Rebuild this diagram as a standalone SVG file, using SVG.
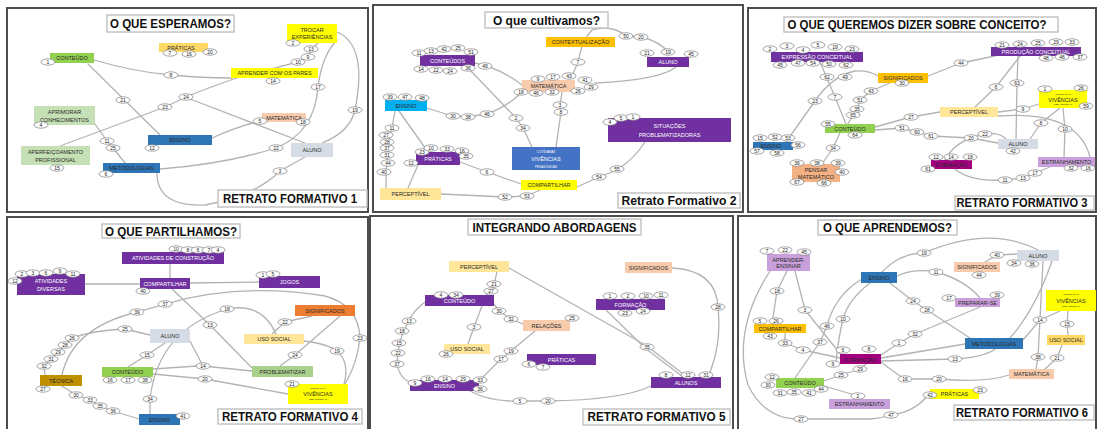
<svg xmlns="http://www.w3.org/2000/svg" width="1098" height="429" viewBox="0 0 1098 429">
<defs>
<style>
.frame{fill:#fff;stroke:#4d4d4d;stroke-width:2}
.tbox{fill:#fff;stroke:#c4c4c4;stroke-width:1.5}
.ttl{font-family:"Liberation Sans",Arial,sans-serif;font-weight:bold;font-size:13px;fill:#111;text-anchor:middle;dominant-baseline:central}
.cap{font-size:12px}
.links path{fill:none;stroke:#b3b3b3;stroke-width:1.3;stroke-linecap:round;stroke-linejoin:round}
.e{fill:#fff;stroke:#808080;stroke-width:0.7}
.n{font-family:"Liberation Sans",Arial,sans-serif;font-size:5px;fill:#222;text-anchor:middle;dominant-baseline:central}
.l{font-family:"Liberation Sans",Arial,sans-serif;font-size:5.5px;fill:#2a2a2a;text-anchor:middle;dominant-baseline:central}
.tiny{font-family:"Liberation Sans",Arial,sans-serif;font-size:6px;fill:#2a2a2a;text-anchor:middle;dominant-baseline:central}
.w{fill:#fff}
.green{fill:#92d050}.lgreen{fill:#c5e0b4}.mgreen{fill:#a9d18e}.yel{fill:#ffff00}.cream{fill:#ffe699}
.sand{fill:#ffd966}.salmon{fill:#f8cbad}.peach{fill:#f4b183}.blue{fill:#2e75b6}.cyan{fill:#00b0f0}
.purple{fill:#7030a0}.grey{fill:#d6dce5}.amber{fill:#ffc000}.orange{fill:#ed7d31}.gold{fill:#bf9000}
.mag{fill:#a3007f}.lav{fill:#c9a0dc}.vblue{fill:#4472c4}
</style>
<ellipse id="tg" class="e" rx="7" ry="3.2"/>
</defs>
<rect width="1098" height="429" fill="#fff"/>

<!-- ===== Retrato 1 ===== -->
<g id="panel1">
<rect class="frame" x="7" y="8" width="361" height="204"/>
<g class="links" id="p1-links">
<path d="M94,60 Q135,72 171,75 Q200,78 232,78"/>
<path d="M88,64 L160,135"/>
<path d="M60,146 L165,107 L186,97 Q215,85 240,77 L298,62 L308,57 L312,49 L318,43"/>
<path d="M190,99 L305,143"/>
<path d="M95,124 L107,141 L113,148 L125,163"/>
<path d="M160,169 Q225,164 276,148 Q315,132 318,87 Q322,55 337,40"/>
<path d="M337,32 Q368,45 355,110 Q350,132 322,143"/>
<path d="M212,138 Q236,127 260,121"/>
<path d="M157,173 Q157,207 205,205 Q255,196 280,171 L305,157"/>
</g>
<g id="p1-title"><rect class="tbox" x="107" y="15" width="127" height="17"/><text class="ttl" x="170.5" y="23.5" textLength="121" lengthAdjust="spacingAndGlyphs">O QUE ESPERAMOS?</text></g>
<g id="p1-caption"><rect class="tbox" x="218" y="190" width="149" height="17"/><text class="ttl cap" x="290" y="198.5" textLength="134" lengthAdjust="spacingAndGlyphs">RETRATO FORMATIVO 1</text></g>
<g id="p1-conteudo"><rect class="green" x="50" y="53" width="44" height="10"/><text class="l" x="72" y="58">CONTEÚDO</text><use href="#tg" x="48" y="62"/><text class="n" x="48" y="62">1</text></g>
<g id="p1-praticas"><rect class="sand" x="159" y="43" width="49" height="9"/><text class="l" x="181" y="47.5">PRÁTICAS</text><use href="#tg" x="170" y="53"/><text class="n" x="170" y="53">7</text><use href="#tg" x="189" y="54"/><text class="n" x="189" y="54">16</text><use href="#tg" x="210" y="52"/><text class="n" x="210" y="52">20</text></g>
<g id="p1-trocar"><rect class="yel" x="287" y="24" width="50" height="19"/><text class="l" x="312" y="29.5">TROCAR</text><text class="l" x="312" y="37">EXPERIÊNCIAS</text><use href="#tg" x="293" y="43"/><text class="n" x="293" y="43">2</text><use href="#tg" x="311" y="49"/><text class="n" x="311" y="49">13</text><use href="#tg" x="308" y="57"/><text class="n" x="308" y="57">9</text><use href="#tg" x="298" y="62"/><text class="n" x="298" y="62">10</text></g>
<g id="p1-aprender"><rect class="yel" x="231" y="68" width="87" height="10"/><text class="l" x="274.5" y="73">APRENDER COM OS PARES</text><use href="#tg" x="273" y="81"/><text class="n" x="273" y="81">14</text></g>
<g id="p1-aprimorar"><rect class="lgreen" x="34" y="106" width="61" height="19"/><text class="l" x="64.5" y="112">APRIMORAR</text><text class="l" x="64.5" y="119.5">CONHECIMENTOS</text><use href="#tg" x="41" y="125"/><text class="n" x="41" y="125">4</text></g>
<g id="p1-matematica"><rect class="salmon" x="262" y="113" width="44" height="9"/><text class="l" x="284" y="117.5">MATEMÁTICA</text><use href="#tg" x="260" y="121"/><text class="n" x="260" y="121">5</text><use href="#tg" x="303" y="122"/><text class="n" x="303" y="122">18</text></g>
<g id="p1-ensino"><rect class="blue" x="148" y="135" width="64" height="10"/><text class="l" x="180" y="140">ENSINO</text><use href="#tg" x="152" y="148"/><text class="n" x="152" y="148">12</text></g>
<g id="p1-aperfeicoamento"><rect class="lgreen" x="21" y="146" width="69" height="19"/><text class="l" x="55.5" y="152">APERFEIÇOAMENTO</text><text class="l" x="55.5" y="159.5">PROFISSIONAL</text><use href="#tg" x="57" y="168"/><text class="n" x="57" y="168">15</text></g>
<g id="p1-metodologias"><rect class="blue" x="103" y="163" width="57" height="10"/><text class="l" x="131.5" y="168">METODOLOGIAS</text><use href="#tg" x="106" y="174"/><text class="n" x="106" y="174">6</text></g>
<g id="p1-aluno"><rect class="grey" x="291" y="143" width="42" height="14"/><text class="l" x="312" y="150">ALUNO</text></g>
<g id="p1-labels">
<use href="#tg" x="171" y="75"/><text class="n" x="171" y="75">8</text>
<use href="#tg" x="123" y="100"/><text class="n" x="123" y="100">21</text>
<use href="#tg" x="165" y="107"/><text class="n" x="165" y="107">23</text>
<use href="#tg" x="186" y="97"/><text class="n" x="186" y="97">24</text>
<use href="#tg" x="318" y="87"/><text class="n" x="318" y="87">17</text>
<use href="#tg" x="355" y="110"/><text class="n" x="355" y="110">19</text>
<use href="#tg" x="107" y="141"/><text class="n" x="107" y="141">11</text>
<use href="#tg" x="113" y="148"/><text class="n" x="113" y="148">25</text>
<use href="#tg" x="276" y="148"/><text class="n" x="276" y="148">22</text>
<use href="#tg" x="280" y="171"/><text class="n" x="280" y="171">3</text>
</g>
</g>

<!-- ===== Retrato 2 ===== -->
<g id="panel2">
<rect class="frame" x="373" y="5" width="370" height="207"/>
<g class="links" id="p2-links">
<path d="M475,63 Q500,68 522,85"/>
<path d="M470,70 L516,118 L523,128 L532,147"/>
<path d="M427,108 L452,116 L467,117 L487,114 Q508,106 521,93"/>
<path d="M399,111 L428,152"/>
<path d="M395,111 L392,128 Q386,150 386,188"/>
<path d="M418,165 L408,188"/>
<path d="M460,162 L487,172 L521,184"/>
<path d="M441,194 L505,197 L527,196 L540,190"/>
<path d="M577,187 L599,177 L617,170 Q635,158 645,142"/>
<path d="M562,92 L560,105 L561,112 L556,147"/>
<path d="M572,76 L578,62 Q582,40 592,30 Q610,24 627,36 L642,37 Q660,42 668,52"/>
<path d="M676,67 Q660,80 595,83"/>
</g>
<g id="p2-title"><rect class="tbox" x="485" y="12" width="123" height="16"/><text class="ttl" x="546.5" y="20" textLength="107" lengthAdjust="spacingAndGlyphs">O que cultivamos?</text></g>
<g id="p2-caption"><rect class="tbox" x="618" y="193" width="122" height="15"/><text class="ttl" x="679" y="200.5" textLength="115" lengthAdjust="spacingAndGlyphs">Retrato Formativo 2</text></g>
<g id="p2-conteudos"><rect class="purple" x="420" y="55" width="55" height="11"/><text class="l w" x="447.5" y="60.5" font-size="8">CONTEÚDOS</text>
<use href="#tg" x="419" y="53"/><text class="n" x="419" y="53">11</text><use href="#tg" x="431" y="51"/><text class="n" x="431" y="51">13</text><use href="#tg" x="444" y="49"/><text class="n" x="444" y="49">42</text><use href="#tg" x="458" y="48"/><text class="n" x="458" y="48">25</text><use href="#tg" x="471" y="52"/><text class="n" x="471" y="52">51</text>
<use href="#tg" x="421" y="69"/><text class="n" x="421" y="69">14</text><use href="#tg" x="436" y="70"/><text class="n" x="436" y="70">22</text><use href="#tg" x="450" y="71"/><text class="n" x="450" y="71">24</text><use href="#tg" x="468" y="68"/><text class="n" x="468" y="68">36</text><use href="#tg" x="485" y="66"/><text class="n" x="485" y="66">49</text></g>
<g id="p2-matematica"><rect class="salmon" x="522" y="80" width="53" height="12"/><text class="l" x="548.5" y="86">MATEMÁTICA</text>
<use href="#tg" x="538" y="79"/><text class="n" x="538" y="79">9</text><use href="#tg" x="553" y="77"/><text class="n" x="553" y="77">17</text><use href="#tg" x="569" y="76"/><text class="n" x="569" y="76">43</text><use href="#tg" x="585" y="80"/><text class="n" x="585" y="80">41</text><use href="#tg" x="591" y="87"/><text class="n" x="591" y="87">29</text><use href="#tg" x="578" y="91"/><text class="n" x="578" y="91">26</text><use href="#tg" x="552" y="92"/><text class="n" x="552" y="92">32</text><use href="#tg" x="536" y="93"/><text class="n" x="536" y="93">46</text><use href="#tg" x="521" y="92"/><text class="n" x="521" y="92">18</text></g>
<g id="p2-contextualizacao"><rect class="amber" x="546" y="37" width="69" height="10"/><text class="l" x="580.5" y="42" font-size="5">CONTEXTUALIZAÇÃO</text></g>
<g id="p2-aluno"><rect class="purple" x="647" y="57" width="42" height="10"/><text class="l w" x="668" y="62" font-size="7">ALUNO</text><use href="#tg" x="647" y="53"/><text class="n" x="647" y="53">21</text><use href="#tg" x="668" y="52"/><text class="n" x="668" y="52">19</text><use href="#tg" x="691" y="54"/><text class="n" x="691" y="54">45</text></g>
<g id="p2-ensino"><rect class="cyan" x="385" y="100" width="42" height="11"/><text class="l" x="406" y="105.5">ENSINO</text><use href="#tg" x="390" y="97"/><text class="n" x="390" y="97">39</text><use href="#tg" x="405" y="97"/><text class="n" x="405" y="97">47</text><use href="#tg" x="422" y="98"/><text class="n" x="422" y="98">48</text></g>
<g id="p2-praticas"><rect class="purple" x="416" y="152" width="44" height="13"/><text class="l w" x="438" y="159" font-size="8">PRÁTICAS</text><use href="#tg" x="422" y="152"/><text class="n" x="422" y="152">23</text><use href="#tg" x="431" y="148"/><text class="n" x="431" y="148">10</text><use href="#tg" x="447" y="149"/><text class="n" x="447" y="149">33</text><use href="#tg" x="462" y="151"/><text class="n" x="462" y="151">16</text><use href="#tg" x="466" y="156"/><text class="n" x="466" y="156">35</text><use href="#tg" x="411" y="163"/><text class="n" x="411" y="163">12</text></g>
<g id="p2-vivencias"><rect class="vblue" x="512" y="147" width="68" height="23"/><text class="tiny w" transform="translate(546 151.5) scale(0.5)">COTIDIANAS</text><text class="l w" x="546" y="159" font-size="10">VIVÊNCIAS</text><text class="tiny w" transform="translate(546 166.5) scale(0.5)">PEDAGÓGICAS</text></g>
<g id="p2-situacoes"><rect class="purple" x="608" y="118" width="123" height="24"/><text class="l w" x="669.5" y="125.5" font-size="8">SITUAÇÕES</text><text class="l w" x="669.5" y="135" font-size="8">PROBLEMATIZADORAS</text><use href="#tg" x="610" y="122"/><text class="n" x="610" y="122">4</text><use href="#tg" x="621" y="118"/><text class="n" x="621" y="118">5</text><use href="#tg" x="633" y="117"/><text class="n" x="633" y="117">1</text></g>
<g id="p2-compartilhar"><rect class="yel" x="521" y="180" width="56" height="10"/><text class="l" x="549" y="185">COMPARTILHAR</text></g>
<g id="p2-perceptivel"><rect class="cream" x="380" y="188" width="61" height="12"/><text class="l" x="410.5" y="194">PERCEPTÍVEL</text></g>
<g id="p2-labels">
<use href="#tg" x="626" y="36"/><text class="n" x="626" y="36">50</text>
<use href="#tg" x="641" y="37"/><text class="n" x="641" y="37">20</text>
<use href="#tg" x="578" y="62"/><text class="n" x="578" y="62">7</text>
<use href="#tg" x="453" y="116"/><text class="n" x="453" y="116">30</text>
<use href="#tg" x="468" y="117"/><text class="n" x="468" y="117">38</text>
<use href="#tg" x="487" y="114"/><text class="n" x="487" y="114">46</text>
<use href="#tg" x="516" y="118"/><text class="n" x="516" y="118">2</text>
<use href="#tg" x="523" y="128"/><text class="n" x="523" y="128">34</text>
<use href="#tg" x="560" y="105"/><text class="n" x="560" y="105">3</text>
<use href="#tg" x="561" y="112"/><text class="n" x="561" y="112">8</text>
<use href="#tg" x="392" y="128"/><text class="n" x="392" y="128">11</text>
<use href="#tg" x="386" y="135"/><text class="n" x="386" y="135">27</text>
<use href="#tg" x="387" y="142"/><text class="n" x="387" y="142">28</text>
<use href="#tg" x="387" y="148"/><text class="n" x="387" y="148">37</text>
<use href="#tg" x="387" y="155"/><text class="n" x="387" y="155">31</text>
<use href="#tg" x="388" y="163"/><text class="n" x="388" y="163">44</text>
<use href="#tg" x="384" y="172"/><text class="n" x="384" y="172">40</text>
<use href="#tg" x="487" y="172"/><text class="n" x="487" y="172">6</text>
<use href="#tg" x="505" y="197"/><text class="n" x="505" y="197">52</text>
<use href="#tg" x="527" y="196"/><text class="n" x="527" y="196">53</text>
<use href="#tg" x="617" y="169"/><text class="n" x="617" y="169">55</text>
<use href="#tg" x="599" y="177"/><text class="n" x="599" y="177">54</text>
</g>
</g>

<!-- ===== Retrato 3 ===== -->
<g id="panel3">
<rect class="frame" x="748" y="8" width="348" height="204"/>
<g class="links" id="p3-links">
<path d="M820,62 L835,97 L846,124"/>
<path d="M786,142 L815,101 Q832,76 855,71 Q868,70 878,76"/>
<path d="M890,83 L871,91 L860,100 L857,109 L853,115 L848,124"/>
<path d="M875,127 L911,117 L940,112"/>
<path d="M875,130 L902,128 L917,132 L931,136 L971,138 L998,143"/>
<path d="M840,133 L833,148 L822,164"/>
<path d="M928,76 L961,63 L995,56"/>
<path d="M1020,56 L996,87 L975,107"/>
<path d="M1018,56 L1017,83 L1016,139"/>
<path d="M998,112 L1023,109 L1039,104"/>
<path d="M1060,108 L1041,123 L1030,139"/>
<path d="M1063,108 L1065,129 L1064,157"/>
<path d="M998,116 Q1078,110 1090,157"/>
<path d="M945,160 Q955,140 985,134 Q1000,132 1006,139"/>
<path d="M955,169 Q970,182 1005,180 L1023,178 L1035,173 L1050,167"/>
</g>
<g id="p3-title"><rect class="tbox" x="784" y="17" width="274" height="15"/><text class="ttl" x="917" y="24.5" font-size="12.5" textLength="259" lengthAdjust="spacingAndGlyphs">O QUE QUEREMOS DIZER SOBRE CONCEITO?</text></g>
<g id="p3-caption"><rect class="tbox" x="955" y="196" width="139" height="14"/><text class="ttl cap" x="1022" y="203" textLength="131" lengthAdjust="spacingAndGlyphs">RETRATO FORMATIVO 3</text></g>
<g id="p3-expressao"><rect class="purple" x="771" y="52" width="92" height="10"/><text class="l w" x="817" y="57" font-size="6.5">EXPRESSÃO CONCEITUAL</text>
<use href="#tg" x="770" y="49"/><text class="n" x="770" y="49">2</text><use href="#tg" x="787" y="46"/><text class="n" x="787" y="46">3</text><use href="#tg" x="803" y="50"/><text class="n" x="803" y="50">4</text><use href="#tg" x="818" y="45"/><text class="n" x="818" y="45">5</text><use href="#tg" x="835" y="47"/><text class="n" x="835" y="47">19</text><use href="#tg" x="852" y="49"/><text class="n" x="852" y="49">23</text>
<use href="#tg" x="780" y="65"/><text class="n" x="780" y="65">45</text><use href="#tg" x="798" y="63"/><text class="n" x="798" y="63">47</text><use href="#tg" x="813" y="63"/><text class="n" x="813" y="63">54</text><use href="#tg" x="829" y="64"/><text class="n" x="829" y="64">50</text><use href="#tg" x="846" y="65"/><text class="n" x="846" y="65">62</text></g>
<g id="p3-significados"><rect class="amber" x="878" y="73" width="50" height="10"/><text class="l" x="903" y="78">SIGNIFICADOS</text><use href="#tg" x="902" y="83"/><text class="n" x="902" y="83">30</text></g>
<g id="p3-producao"><rect class="purple" x="991" y="47" width="90" height="9"/><text class="l w" x="1036" y="51.5" font-size="6.5">PRODUÇÃO CONCEITUAL</text>
<use href="#tg" x="1002" y="45"/><text class="n" x="1002" y="45">21</text><use href="#tg" x="1020" y="44"/><text class="n" x="1020" y="44">24</text><use href="#tg" x="1038" y="43"/><text class="n" x="1038" y="43">25</text><use href="#tg" x="1056" y="42"/><text class="n" x="1056" y="42">29</text><use href="#tg" x="1072" y="42"/><text class="n" x="1072" y="42">33</text>
<use href="#tg" x="1046" y="58"/><text class="n" x="1046" y="58">48</text><use href="#tg" x="1062" y="57"/><text class="n" x="1062" y="57">46</text><use href="#tg" x="1080" y="57"/><text class="n" x="1080" y="57">37</text></g>
<g id="p3-vivencias"><rect class="yel" x="1039" y="90" width="48" height="18"/><text class="tiny" transform="translate(1063 94) scale(0.42)">COTIDIANAS</text><text class="l" x="1063" y="99.5" font-size="7">VIVÊNCIAS</text><text class="tiny" transform="translate(1063 104.5) scale(0.42)">PEDAGÓGICAS</text>
<use href="#tg" x="1045" y="89"/><text class="n" x="1045" y="89">1</text><use href="#tg" x="1081" y="88"/><text class="n" x="1081" y="88">26</text><use href="#tg" x="1086" y="106"/><text class="n" x="1086" y="106">59</text></g>
<g id="p3-perceptivel"><rect class="cream" x="940" y="107" width="58" height="10"/><text class="l" x="969" y="112">PERCEPTÍVEL</text></g>
<g id="p3-conteudo"><rect class="green" x="825" y="124" width="50" height="9"/><text class="l" x="850" y="128.5">CONTEÚDO</text><use href="#tg" x="828" y="124"/><text class="n" x="828" y="124">55</text><use href="#tg" x="855" y="135"/><text class="n" x="855" y="135">64</text></g>
<g id="p3-aluno"><rect class="grey" x="998" y="139" width="40" height="10"/><text class="l" x="1018" y="144">ALUNO</text><use href="#tg" x="1013" y="151"/><text class="n" x="1013" y="151">42</text></g>
<g id="p3-ensino"><rect class="blue" x="753" y="142" width="40" height="8"/><text class="l" x="771" y="146">ENSINO</text>
<use href="#tg" x="760" y="138"/><text class="n" x="760" y="138">15</text><use href="#tg" x="775" y="137"/><text class="n" x="775" y="137">52</text><use href="#tg" x="788" y="138"/><text class="n" x="788" y="138">53</text><use href="#tg" x="798" y="145"/><text class="n" x="798" y="145">56</text><use href="#tg" x="757" y="151"/><text class="n" x="757" y="151">57</text><use href="#tg" x="777" y="153"/><text class="n" x="777" y="153">58</text></g>
<g id="p3-pensar"><rect class="peach" x="792" y="164" width="48" height="18"/><text class="l" x="816" y="169.5">PENSAR</text><text class="l" x="816" y="176.5">MATEMÁTICO</text>
<use href="#tg" x="797" y="163"/><text class="n" x="797" y="163">36</text><use href="#tg" x="817" y="163"/><text class="n" x="817" y="163">38</text><use href="#tg" x="838" y="163"/><text class="n" x="838" y="163">39</text><use href="#tg" x="842" y="172"/><text class="n" x="842" y="172">40</text><use href="#tg" x="797" y="182"/><text class="n" x="797" y="182">67</text><use href="#tg" x="824" y="183"/><text class="n" x="824" y="183">66</text></g>
<g id="p3-formacao"><rect class="mag" x="931" y="160" width="41" height="9"/><text class="l" x="951.5" y="164.5">FORMAÇÃO</text>
<use href="#tg" x="936" y="157"/><text class="n" x="936" y="157">12</text><use href="#tg" x="951" y="157"/><text class="n" x="951" y="157">14</text><use href="#tg" x="970" y="157"/><text class="n" x="970" y="157">18</text><use href="#tg" x="928" y="169"/><text class="n" x="928" y="169">61</text></g>
<g id="p3-estranhamento"><rect class="lav" x="1038" y="157" width="57" height="10"/><text class="l" x="1066.5" y="162">ESTRANHAMENTO</text><use href="#tg" x="1071" y="168"/><text class="n" x="1071" y="168">32</text><use href="#tg" x="1088" y="168"/><text class="n" x="1088" y="168">16</text></g>
<g id="p3-labels">
<use href="#tg" x="827" y="77"/><text class="n" x="827" y="77">62</text>
<use href="#tg" x="845" y="77"/><text class="n" x="845" y="77">49</text>
<use href="#tg" x="871" y="91"/><text class="n" x="871" y="91">43</text>
<use href="#tg" x="860" y="100"/><text class="n" x="860" y="100">51</text>
<use href="#tg" x="857" y="109"/><text class="n" x="857" y="109">35</text>
<use href="#tg" x="853" y="115"/><text class="n" x="853" y="115">65</text>
<use href="#tg" x="815" y="101"/><text class="n" x="815" y="101">23</text>
<use href="#tg" x="835" y="97"/><text class="n" x="835" y="97">7</text>
<use href="#tg" x="961" y="63"/><text class="n" x="961" y="63">44</text>
<use href="#tg" x="996" y="87"/><text class="n" x="996" y="87">6</text>
<use href="#tg" x="1017" y="83"/><text class="n" x="1017" y="83">63</text>
<use href="#tg" x="1023" y="109"/><text class="n" x="1023" y="109">9</text>
<use href="#tg" x="911" y="117"/><text class="n" x="911" y="117">27</text>
<use href="#tg" x="902" y="128"/><text class="n" x="902" y="128">51</text>
<use href="#tg" x="917" y="132"/><text class="n" x="917" y="132">60</text>
<use href="#tg" x="931" y="136"/><text class="n" x="931" y="136">61</text>
<use href="#tg" x="971" y="138"/><text class="n" x="971" y="138">20</text>
<use href="#tg" x="985" y="134"/><text class="n" x="985" y="134">22</text>
<use href="#tg" x="1041" y="123"/><text class="n" x="1041" y="123">8</text>
<use href="#tg" x="1065" y="129"/><text class="n" x="1065" y="129">10</text>
<use href="#tg" x="833" y="148"/><text class="n" x="833" y="148">34</text>
<use href="#tg" x="1005" y="180"/><text class="n" x="1005" y="180">11</text>
<use href="#tg" x="1023" y="178"/><text class="n" x="1023" y="178">13</text>
<use href="#tg" x="1035" y="173"/><text class="n" x="1035" y="173">17</text>
</g>
</g>

<!-- ===== Retrato 4 ===== -->
<g id="panel4">
<rect class="frame" x="7" y="217" width="361" height="214"/>
<g class="links" id="p4-links">
<path d="M170,264 L170,278"/>
<path d="M85,284 L140,284"/>
<path d="M190,283 L259,282"/>
<path d="M172,289 L210,325 L252,368"/>
<path d="M62,375 Q72,328 137,312 L165,304 Q240,282 325,296 Q358,305 360,337 Q358,362 345,384"/>
<path d="M150,414 L150,399 Q158,330 227,309 Q262,302 276,334"/>
<path d="M312,316 L285,322 L272,334"/>
<path d="M340,316 L295,355 L280,366"/>
<path d="M304,341 Q328,344 337,351 Q350,362 344,384"/>
<path d="M153,374 L205,379 L288,394"/>
<path d="M190,341 L203,366 L252,371"/>
<path d="M153,369 L197,366"/>
<path d="M45,375 L44,366 L51,359 L58,352 L65,345 L72,338 Q95,330 125,329 L150,335"/>
<path d="M165,343 L147,355 L128,367"/>
<path d="M62,386 L76,395 L90,400 L100,406 L113,411 L139,419"/>
</g>
<g id="p4-title"><rect class="tbox" x="102" y="224" width="138" height="14"/><text class="ttl" x="171" y="231" font-size="12.5" textLength="132" lengthAdjust="spacingAndGlyphs">O QUE PARTILHAMOS?</text></g>
<g id="p4-caption"><rect class="tbox" x="218" y="409" width="144" height="15"/><text class="ttl cap" x="290" y="416.5" textLength="136" lengthAdjust="spacingAndGlyphs">RETRATO FORMATIVO 4</text></g>
<g id="p4-atividades-construcao"><rect class="purple" x="122" y="252" width="102" height="12"/><text class="l w" x="173" y="258" font-size="6">ATIVIDADES DE CONSTRUÇÃO</text>
<use href="#tg" x="176" y="249"/><text class="n" x="176" y="249">10</text><use href="#tg" x="188" y="250"/><text class="n" x="188" y="250">8</text><use href="#tg" x="198" y="250"/><text class="n" x="198" y="250">6</text><use href="#tg" x="209" y="250"/><text class="n" x="209" y="250">7</text><use href="#tg" x="218" y="250"/><text class="n" x="218" y="250">4</text></g>
<g id="p4-atividades-diversas"><rect class="purple" x="17" y="274" width="68" height="21"/><text class="l w" x="51" y="280.5" font-size="6.5">ATIVIDADES</text><text class="l w" x="51" y="288.5" font-size="6.5">DIVERSAS</text>
<use href="#tg" x="22" y="274"/><text class="n" x="22" y="274">2</text><use href="#tg" x="33" y="273"/><text class="n" x="33" y="273">3</text><use href="#tg" x="46" y="273"/><text class="n" x="46" y="273">6</text><use href="#tg" x="60" y="271"/><text class="n" x="60" y="271">9</text><use href="#tg" x="73" y="274"/><text class="n" x="73" y="274">11</text><use href="#tg" x="15" y="281"/><text class="n" x="15" y="281">12</text></g>
<g id="p4-compartilhar"><rect class="purple" x="140" y="278" width="50" height="11"/><text class="l w" x="165" y="283.5" font-size="6">COMPARTILHAR</text><use href="#tg" x="143" y="291"/><text class="n" x="143" y="291">40</text></g>
<g id="p4-jogos"><rect class="purple" x="259" y="276" width="61" height="12"/><text class="l w" x="289.5" y="282" font-size="6">JOGOS</text><use href="#tg" x="263" y="275"/><text class="n" x="263" y="275">1</text><use href="#tg" x="273" y="274"/><text class="n" x="273" y="274">5</text></g>
<g id="p4-significados"><rect class="orange" x="295" y="305" width="60" height="11"/><text class="l" x="325" y="310.5">SIGNIFICADOS</text></g>
<g id="p4-aluno"><rect class="grey" x="150" y="329" width="40" height="14"/><text class="l" x="170" y="336">ALUNO</text></g>
<g id="p4-uso-social"><rect class="cream" x="244" y="334" width="60" height="10"/><text class="l" x="274" y="339">USO SOCIAL</text></g>
<g id="p4-conteudo"><rect class="green" x="102" y="367" width="51" height="10"/><text class="l" x="127.5" y="372">CONTEÚDO</text>
<use href="#tg" x="110" y="380"/><text class="n" x="110" y="380">16</text><use href="#tg" x="128" y="380"/><text class="n" x="128" y="380">17</text><use href="#tg" x="145" y="380"/><text class="n" x="145" y="380">38</text></g>
<g id="p4-problematizar"><rect class="mgreen" x="252" y="366" width="61" height="11"/><text class="l" x="282.5" y="371.5">PROBLEMATIZAR</text></g>
<g id="p4-tecnica"><rect class="gold" x="40" y="375" width="42" height="11"/><text class="l" x="61" y="380.5">TÉCNICA</text><use href="#tg" x="43" y="389"/><text class="n" x="43" y="389">27</text></g>
<g id="p4-vivencias"><rect class="yel" x="288" y="384" width="60" height="20"/><text class="tiny" transform="translate(318 388.5) scale(0.42)">COTIDIANAS</text><text class="l" x="318" y="394" font-size="7">VIVÊNCIAS</text><text class="tiny" transform="translate(318 399.5) scale(0.42)">PEDAGÓGICAS</text><use href="#tg" x="292" y="384"/><text class="n" x="292" y="384">21</text></g>
<g id="p4-ensino"><rect class="blue" x="139" y="414" width="41" height="11"/><text class="l" x="159.5" y="419.5">ENSINO</text><use href="#tg" x="183" y="416"/><text class="n" x="183" y="416">41</text></g>
<g id="p4-labels">
<use href="#tg" x="165" y="304"/><text class="n" x="165" y="304">37</text>
<use href="#tg" x="137" y="312"/><text class="n" x="137" y="312">39</text>
<use href="#tg" x="227" y="309"/><text class="n" x="227" y="309">18</text>
<use href="#tg" x="210" y="325"/><text class="n" x="210" y="325">13</text>
<use href="#tg" x="285" y="322"/><text class="n" x="285" y="322">22</text>
<use href="#tg" x="125" y="329"/><text class="n" x="125" y="329">25</text>
<use href="#tg" x="360" y="338"/><text class="n" x="360" y="338">23</text>
<use href="#tg" x="337" y="351"/><text class="n" x="337" y="351">19</text>
<use href="#tg" x="295" y="355"/><text class="n" x="295" y="355">24</text>
<use href="#tg" x="72" y="338"/><text class="n" x="72" y="338">26</text>
<use href="#tg" x="65" y="345"/><text class="n" x="65" y="345">28</text>
<use href="#tg" x="58" y="352"/><text class="n" x="58" y="352">29</text>
<use href="#tg" x="51" y="359"/><text class="n" x="51" y="359">31</text>
<use href="#tg" x="44" y="366"/><text class="n" x="44" y="366">32</text>
<use href="#tg" x="147" y="355"/><text class="n" x="147" y="355">15</text>
<use href="#tg" x="203" y="366"/><text class="n" x="203" y="366">14</text>
<use href="#tg" x="205" y="379"/><text class="n" x="205" y="379">20</text>
<use href="#tg" x="76" y="395"/><text class="n" x="76" y="395">30</text>
<use href="#tg" x="90" y="400"/><text class="n" x="90" y="400">33</text>
<use href="#tg" x="100" y="406"/><text class="n" x="100" y="406">35</text>
<use href="#tg" x="113" y="411"/><text class="n" x="113" y="411">36</text>
<use href="#tg" x="150" y="399"/><text class="n" x="150" y="399">34</text>
</g>
</g>

<!-- ===== Retrato 5 ===== -->
<g id="panel5">
<rect class="frame" x="370" y="216" width="363" height="215"/>
<g class="links" id="p5-links">
<path d="M497,272 L494,284 L491,291 L486,295"/>
<path d="M509,268 L647,346 L687,377"/>
<path d="M606,310 L645,348 L683,377"/>
<path d="M494,304 L499,311 L511,319 L523,324"/>
<path d="M482,306 L474,327 L468,344"/>
<path d="M425,302 Q412,312 409,321 Q400,335 398,353 L397,364 Q400,380 413,383"/>
<path d="M535,331 L511,351 L501,359 L480,380"/>
<path d="M470,391 Q490,402 520,401 L548,401 Q622,400 651,386"/>
<path d="M672,268 Q716,270 718,307 Q722,345 708,377"/>
</g>
<g id="p5-title"><rect class="tbox" x="468" y="219" width="173" height="16"/><text class="ttl" x="554.5" y="227" textLength="164" lengthAdjust="spacingAndGlyphs">INTEGRANDO ABORDAGENS</text></g>
<g id="p5-caption"><rect class="tbox" x="583" y="409" width="147" height="16"/><text class="ttl cap" x="656.5" y="417" textLength="138" lengthAdjust="spacingAndGlyphs">RETRATO FORMATIVO 5</text></g>
<g id="p5-perceptivel"><rect class="cream" x="449" y="261" width="60" height="11"/><text class="l" x="479" y="266.5">PERCEPTÍVEL</text></g>
<g id="p5-conteudo"><rect class="purple" x="425" y="295" width="69" height="11"/><text class="l w" x="459.5" y="300.5" font-size="8">CONTEÚDO</text><use href="#tg" x="441" y="295"/><text class="n" x="441" y="295">4</text><use href="#tg" x="456" y="295"/><text class="n" x="456" y="295">34</text></g>
<g id="p5-relacoes"><rect class="salmon" x="523" y="320" width="47" height="11"/><text class="l" x="546.5" y="325.5">RELAÇÕES</text><use href="#tg" x="572" y="318"/><text class="n" x="572" y="318">25</text></g>
<g id="p5-uso-social"><rect class="cream" x="444" y="344" width="46" height="10"/><text class="l" x="467" y="349" font-size="6">USO SOCIAL</text><use href="#tg" x="446" y="354"/><text class="n" x="446" y="354">26</text></g>
<g id="p5-praticas"><rect class="purple" x="527" y="354" width="69" height="11"/><text class="l w" x="561.5" y="359.5" font-size="6">PRÁTICAS</text><use href="#tg" x="529" y="364"/><text class="n" x="529" y="364">6</text><use href="#tg" x="543" y="367"/><text class="n" x="543" y="367">7</text></g>
<g id="p5-formacao"><rect class="purple" x="596" y="299" width="69" height="11"/><text class="l w" x="630.5" y="304.5" font-size="7">FORMAÇÃO</text>
<use href="#tg" x="610" y="296"/><text class="n" x="610" y="296">1</text><use href="#tg" x="628" y="296"/><text class="n" x="628" y="296">2</text><use href="#tg" x="646" y="296"/><text class="n" x="646" y="296">10</text><use href="#tg" x="661" y="295"/><text class="n" x="661" y="295">11</text><use href="#tg" x="625" y="313"/><text class="n" x="625" y="313">23</text><use href="#tg" x="643" y="311"/><text class="n" x="643" y="311">24</text></g>
<g id="p5-significados"><rect class="salmon" x="625" y="262" width="47" height="11"/><text class="l" x="648.5" y="267.5" font-size="5">SIGNIFICADOS</text></g>
<g id="p5-alunos"><rect class="purple" x="651" y="377" width="70" height="11"/><text class="l w" x="686" y="382.5" font-size="6.5">ALUNOS</text>
<use href="#tg" x="666" y="375"/><text class="n" x="666" y="375">8</text><use href="#tg" x="688" y="375"/><text class="n" x="688" y="375">12</text><use href="#tg" x="706" y="375"/><text class="n" x="706" y="375">31</text></g>
<g id="p5-ensino"><rect class="purple" x="410" y="380" width="69" height="11"/><text class="l w" x="444.5" y="386" font-size="7">ENSINO</text>
<use href="#tg" x="415" y="383"/><text class="n" x="415" y="383">9</text><use href="#tg" x="428" y="379"/><text class="n" x="428" y="379">16</text><use href="#tg" x="445" y="379"/><text class="n" x="445" y="379">14</text><use href="#tg" x="463" y="379"/><text class="n" x="463" y="379">29</text><use href="#tg" x="480" y="380"/><text class="n" x="480" y="380">33</text><use href="#tg" x="480" y="389"/><text class="n" x="480" y="389">36</text></g>
<g id="p5-labels">
<use href="#tg" x="494" y="284"/><text class="n" x="494" y="284">21</text>
<use href="#tg" x="491" y="291"/><text class="n" x="491" y="291">27</text>
<use href="#tg" x="499" y="311"/><text class="n" x="499" y="311">30</text>
<use href="#tg" x="511" y="319"/><text class="n" x="511" y="319">32</text>
<use href="#tg" x="409" y="321"/><text class="n" x="409" y="321">13</text>
<use href="#tg" x="402" y="331"/><text class="n" x="402" y="331">18</text>
<use href="#tg" x="399" y="343"/><text class="n" x="399" y="343">15</text>
<use href="#tg" x="398" y="353"/><text class="n" x="398" y="353">22</text>
<use href="#tg" x="397" y="364"/><text class="n" x="397" y="364">37</text>
<use href="#tg" x="474" y="327"/><text class="n" x="474" y="327">3</text>
<use href="#tg" x="511" y="351"/><text class="n" x="511" y="351">19</text>
<use href="#tg" x="501" y="359"/><text class="n" x="501" y="359">17</text>
<use href="#tg" x="718" y="307"/><text class="n" x="718" y="307">28</text>
<use href="#tg" x="647" y="347"/><text class="n" x="647" y="347">35</text>
<use href="#tg" x="520" y="401"/><text class="n" x="520" y="401">5</text>
<use href="#tg" x="548" y="401"/><text class="n" x="548" y="401">20</text>
</g>
</g>

<!-- ===== Retrato 6 ===== -->
<g id="panel6">
<rect class="frame" x="738" y="216" width="358" height="215"/>
<g class="links" id="p6-links">
<path d="M787,271 L777,291 L772,324"/>
<path d="M795,271 L805,310 L842,356"/>
<path d="M770,271 Q732,330 748,385 Q765,420 801,419 L870,419 Q882,418 891,415 Q915,412 928,395"/>
<path d="M785,333 L785,343 L803,350 L840,358"/>
<path d="M870,283 Q848,300 843,319 Q838,340 836,363"/>
<path d="M862,279 Q835,295 827,326 L820,342 L795,378"/>
<path d="M882,272 Q900,253 924,253 Q990,225 1038,250"/>
<path d="M897,276 Q915,268 936,272 Q965,280 980,298"/>
<path d="M890,283 L913,301 L927,310 L970,338"/>
<path d="M881,355 L899,343 L915,334 L980,307"/>
<path d="M881,358 L965,344"/>
<path d="M881,361 L955,359 Q985,357 995,349"/>
<path d="M1052,261 Q1035,310 1010,338"/>
<path d="M1043,261 L1038,357 L1036,369"/>
<path d="M1017,254 L997,255 L985,262"/>
<path d="M1023,340 L1040,320 L1060,311"/>
<path d="M1068,311 L1067,324 L1068,335"/>
<path d="M1062,345 L1057,358 L1045,369"/>
<path d="M881,362 Q895,373 905,379 L939,379 Q985,383 1009,375"/>
<path d="M866,364 L860,369 L841,375 L824,381"/>
<path d="M824,386 L858,396"/>
</g>
<g id="p6-title"><rect class="tbox" x="818" y="220" width="139" height="15"/><text class="ttl" x="887.5" y="227.5" font-size="12.5" textLength="129" lengthAdjust="spacingAndGlyphs">O QUE APRENDEMOS?</text></g>
<g id="p6-caption"><rect class="tbox" x="954" y="405" width="140" height="15"/><text class="ttl cap" x="1022" y="412.5" textLength="132" lengthAdjust="spacingAndGlyphs">RETRATO FORMATIVO 6</text></g>
<g id="p6-aprender-ensinar"><rect class="lav" x="767" y="254" width="43" height="17"/><text class="l" x="788.5" y="259.5">APRENDER-</text><text class="l" x="788.5" y="266">ENSINAR</text>
<use href="#tg" x="767" y="251"/><text class="n" x="767" y="251">7</text><use href="#tg" x="785" y="250"/><text class="n" x="785" y="250">22</text><use href="#tg" x="804" y="252"/><text class="n" x="804" y="252">45</text></g>
<g id="p6-ensino"><rect class="blue" x="861" y="272" width="36" height="11"/><text class="l" x="879" y="277.5">ENSINO</text></g>
<g id="p6-aluno"><rect class="grey" x="1017" y="250" width="42" height="11"/><text class="l" x="1038" y="255.5">ALUNO</text>
<use href="#tg" x="997" y="255"/><text class="n" x="997" y="255">40</text><use href="#tg" x="1014" y="263"/><text class="n" x="1014" y="263">34</text><use href="#tg" x="1032" y="264"/><text class="n" x="1032" y="264">36</text></g>
<g id="p6-significados"><rect class="salmon" x="954" y="262" width="46" height="10"/><text class="l" x="977" y="267">SIGNIFICADOS</text><use href="#tg" x="979" y="275"/><text class="n" x="979" y="275">44</text></g>
<g id="p6-vivencias"><rect class="yel" x="1046" y="290" width="50" height="21"/><text class="tiny" transform="translate(1071 294.5) scale(0.42)">COTIDIANAS</text><text class="l" x="1071" y="300.5" font-size="7">VIVÊNCIAS</text><text class="tiny" transform="translate(1071 306) scale(0.42)">PEDAGÓGICAS</text></g>
<g id="p6-preparar-se"><rect class="lav" x="955" y="298" width="45" height="9"/><text class="l" x="977.5" y="302.5">PREPARAR-SE</text>
<use href="#tg" x="949" y="298"/><text class="n" x="949" y="298">17</text><use href="#tg" x="997" y="295"/><text class="n" x="997" y="295">39</text></g>
<g id="p6-compartilhar"><rect class="amber" x="754" y="324" width="52" height="9"/><text class="l" x="780" y="328.5">COMPARTILHAR</text>
<use href="#tg" x="760" y="321"/><text class="n" x="760" y="321">5</text><use href="#tg" x="776" y="321"/><text class="n" x="776" y="321">26</text><use href="#tg" x="770" y="336"/><text class="n" x="770" y="336">43</text></g>
<g id="p6-uso-social"><rect class="sand" x="1047" y="335" width="38" height="10"/><text class="l" x="1066" y="340">USO SOCIAL</text></g>
<g id="p6-metodologias"><rect class="blue" x="965" y="338" width="58" height="11"/><text class="l" x="994" y="343.5">METODOLOGIAS</text></g>
<g id="p6-formacao"><rect class="mag" x="840" y="354" width="41" height="10"/><text class="l" x="860.5" y="359.5">FORMAÇÃO</text>
<use href="#tg" x="843" y="350"/><text class="n" x="843" y="350">6</text><use href="#tg" x="869" y="349"/><text class="n" x="869" y="349">8</text><use href="#tg" x="833" y="364"/><text class="n" x="833" y="364">9</text></g>
<g id="p6-matematica"><rect class="salmon" x="1009" y="369" width="45" height="10"/><text class="l" x="1031.5" y="374">MATEMÁTICA</text></g>
<g id="p6-conteudo"><rect class="green" x="776" y="378" width="48" height="10"/><text class="l" x="800" y="383">CONTEÚDO</text>
<use href="#tg" x="772" y="377"/><text class="n" x="772" y="377">12</text><use href="#tg" x="768" y="385"/><text class="n" x="768" y="385">30</text><use href="#tg" x="780" y="393"/><text class="n" x="780" y="393">31</text><use href="#tg" x="794" y="392"/><text class="n" x="794" y="392">35</text><use href="#tg" x="809" y="393"/><text class="n" x="809" y="393">41</text><use href="#tg" x="821" y="389"/><text class="n" x="821" y="389">44</text></g>
<g id="p6-estranhamento"><rect class="lav" x="829" y="399" width="61" height="10"/><text class="l" x="859.5" y="404">ESTRANHAMENTO</text><use href="#tg" x="858" y="396"/><text class="n" x="858" y="396">2</text></g>
<g id="p6-praticas"><rect class="yel" x="930" y="389" width="49" height="10"/><text class="l" x="954.5" y="394">PRÁTICAS</text>
<use href="#tg" x="930" y="395"/><text class="n" x="930" y="395">42</text><use href="#tg" x="980" y="390"/><text class="n" x="980" y="390">23</text></g>
<g id="p6-labels">
<use href="#tg" x="924" y="253"/><text class="n" x="924" y="253">19</text>
<use href="#tg" x="936" y="272"/><text class="n" x="936" y="272">11</text>
<use href="#tg" x="777" y="291"/><text class="n" x="777" y="291">18</text>
<use href="#tg" x="913" y="301"/><text class="n" x="913" y="301">24</text>
<use href="#tg" x="927" y="310"/><text class="n" x="927" y="310">28</text>
<use href="#tg" x="805" y="310"/><text class="n" x="805" y="310">3</text>
<use href="#tg" x="843" y="319"/><text class="n" x="843" y="319">10</text>
<use href="#tg" x="827" y="326"/><text class="n" x="827" y="326">46</text>
<use href="#tg" x="1040" y="320"/><text class="n" x="1040" y="320">14</text>
<use href="#tg" x="1067" y="324"/><text class="n" x="1067" y="324">15</text>
<use href="#tg" x="915" y="334"/><text class="n" x="915" y="334">32</text>
<use href="#tg" x="785" y="343"/><text class="n" x="785" y="343">33</text>
<use href="#tg" x="803" y="350"/><text class="n" x="803" y="350">4</text>
<use href="#tg" x="820" y="342"/><text class="n" x="820" y="342">37</text>
<use href="#tg" x="899" y="343"/><text class="n" x="899" y="343">1</text>
<use href="#tg" x="955" y="359"/><text class="n" x="955" y="359">13</text>
<use href="#tg" x="1038" y="357"/><text class="n" x="1038" y="357">38</text>
<use href="#tg" x="1057" y="358"/><text class="n" x="1057" y="358">21</text>
<use href="#tg" x="860" y="369"/><text class="n" x="860" y="369">29</text>
<use href="#tg" x="841" y="375"/><text class="n" x="841" y="375">25</text>
<use href="#tg" x="905" y="379"/><text class="n" x="905" y="379">16</text>
<use href="#tg" x="939" y="379"/><text class="n" x="939" y="379">20</text>
<use href="#tg" x="891" y="415"/><text class="n" x="891" y="415">47</text>
<use href="#tg" x="801" y="419"/><text class="n" x="801" y="419">27</text>
</g>
</g>
</svg>
